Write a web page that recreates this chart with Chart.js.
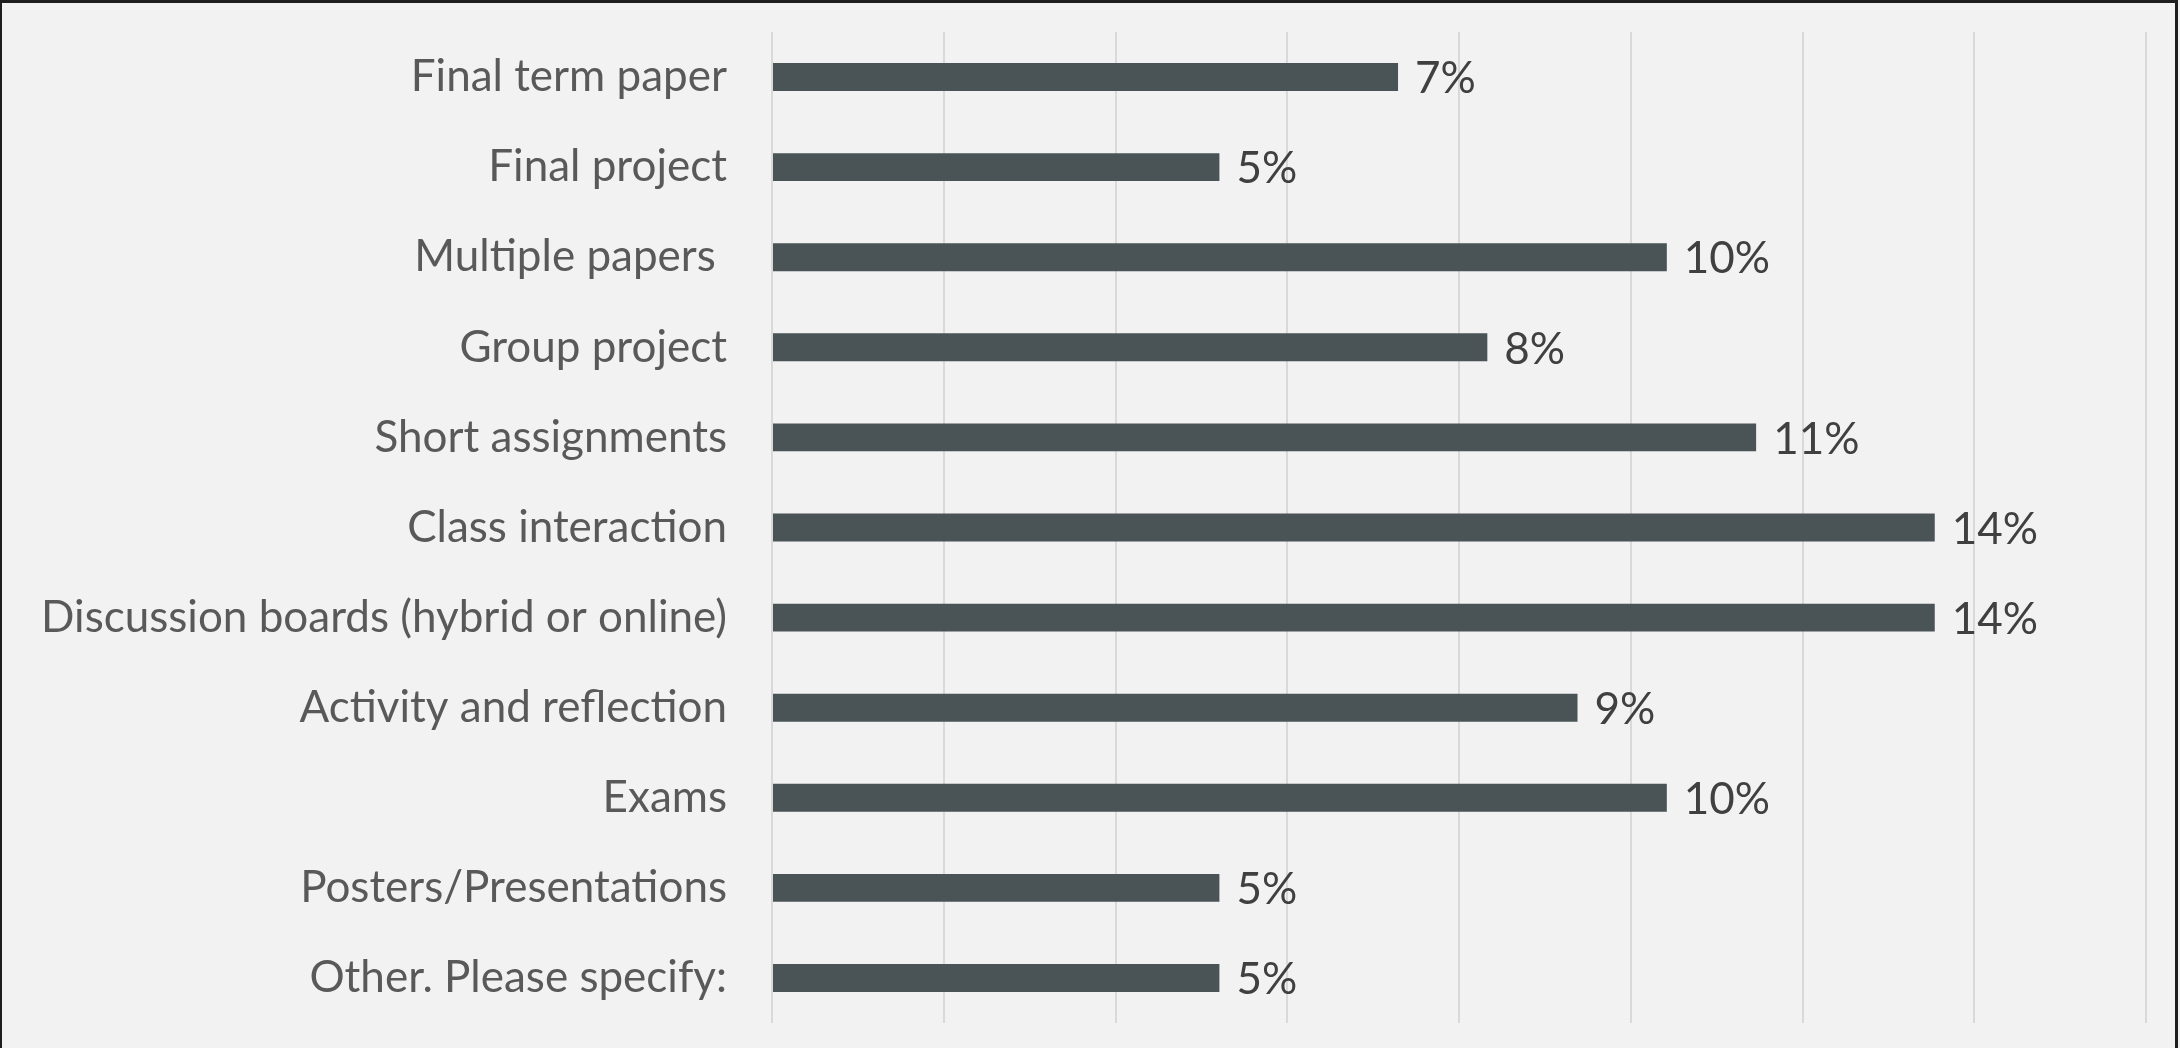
<!DOCTYPE html>
<html>
<head>
<meta charset="utf-8">
<title>Assessment types</title>
<script src="https://cdn.jsdelivr.net/npm/chart.js@4.4.1/dist/chart.umd.min.js"></script>
<style>
    html, body { margin: 0; padding: 0; background: #ffffff; }
    .wrap { position: relative; width: 2180px; height: 1048px; background: #f2f2f2; }
    .frame {
        position: absolute; left: 0; top: 0; width: 2178px; height: 1048px;
        box-sizing: border-box;
        border-top: 3px solid #1e1e1e; border-left: 2px solid #1e1e1e; border-right: 3px solid #1e1e1e;
        pointer-events: none;
    }
    canvas { display: block; }
</style>
</head>
<body>
<div class="wrap">
    <canvas id="chart" width="2180" height="1048"></canvas>
    <div class="frame"></div>
</div>
<script>
// Categories, top to bottom
const categories = [
    'Final term paper',
    'Final project',
    'Multiple papers ',
    'Group project',
    'Short assignments',
    'Class interaction',
    'Discussion boards (hybrid or online)',
    'Activity and reflection',
    'Exams',
    'Posters/Presentations',
    'Other. Please specify:'
];

// Share of responses, in percent
const shares = [7.29, 5.21, 10.42, 8.33, 11.46, 13.54, 13.54, 9.38, 10.42, 5.21, 5.21];

// Value axis (hidden tick labels, gridlines only)
const axisMin = 0;
const axisMax = 16;
const axisStep = 2;

const FONT = 'Lato, "Open Sans", sans-serif';

/**
 * Writes the rounded percentage to the right of each bar
 */
const valueLabels = {
    id: 'valueLabels',
    afterDatasetsDraw(chart) {
        const ctx = chart.ctx;
        const meta = chart.getDatasetMeta(0);
        ctx.save();
        ctx.font = '44px ' + FONT;
        ctx.fillStyle = '#404040';
        ctx.textAlign = 'left';
        ctx.textBaseline = 'middle';
        meta.data.forEach((bar, i) => {
            ctx.fillText(Math.round(shares[i]) + '%', bar.x + 17, bar.y + 2);
        });
        ctx.restore();
    }
};

const ctx = document.getElementById('chart').getContext('2d');

new Chart(ctx, {
    type: 'bar',
    data: {
        labels: categories,
        datasets: [{
            data: shares,
            backgroundColor: '#4a5356',
            borderWidth: 0,
            categoryPercentage: 1,
            barPercentage: 0.31
        }]
    },
    options: {
        indexAxis: 'y',
        responsive: false,
        animation: false,
        layout: {
            padding: { top: 32, bottom: 25, left: 0, right: 34 }
        },
        scales: {
            x: {
                min: axisMin,
                max: axisMax,
                ticks: { display: false, stepSize: axisStep },
                grid: { color: '#d9d9d9', lineWidth: 2, drawTicks: false },
                border: { display: false }
            },
            y: {
                grid: { display: false, drawTicks: false },
                border: { display: false },
                ticks: {
                    color: '#595959',
                    font: { family: FONT, size: 44 },
                    padding: 45
                },
                afterFit: scale => {
                    // fixed label column, no extra vertical padding from the labels
                    scale.width = 772;
                    scale.paddingTop = 0;
                    scale.paddingBottom = 0;
                }
            }
        },
        plugins: {
            legend: { display: false },
            tooltip: { enabled: false }
        }
    },
    plugins: [valueLabels]
});
</script>
</body>
</html>
